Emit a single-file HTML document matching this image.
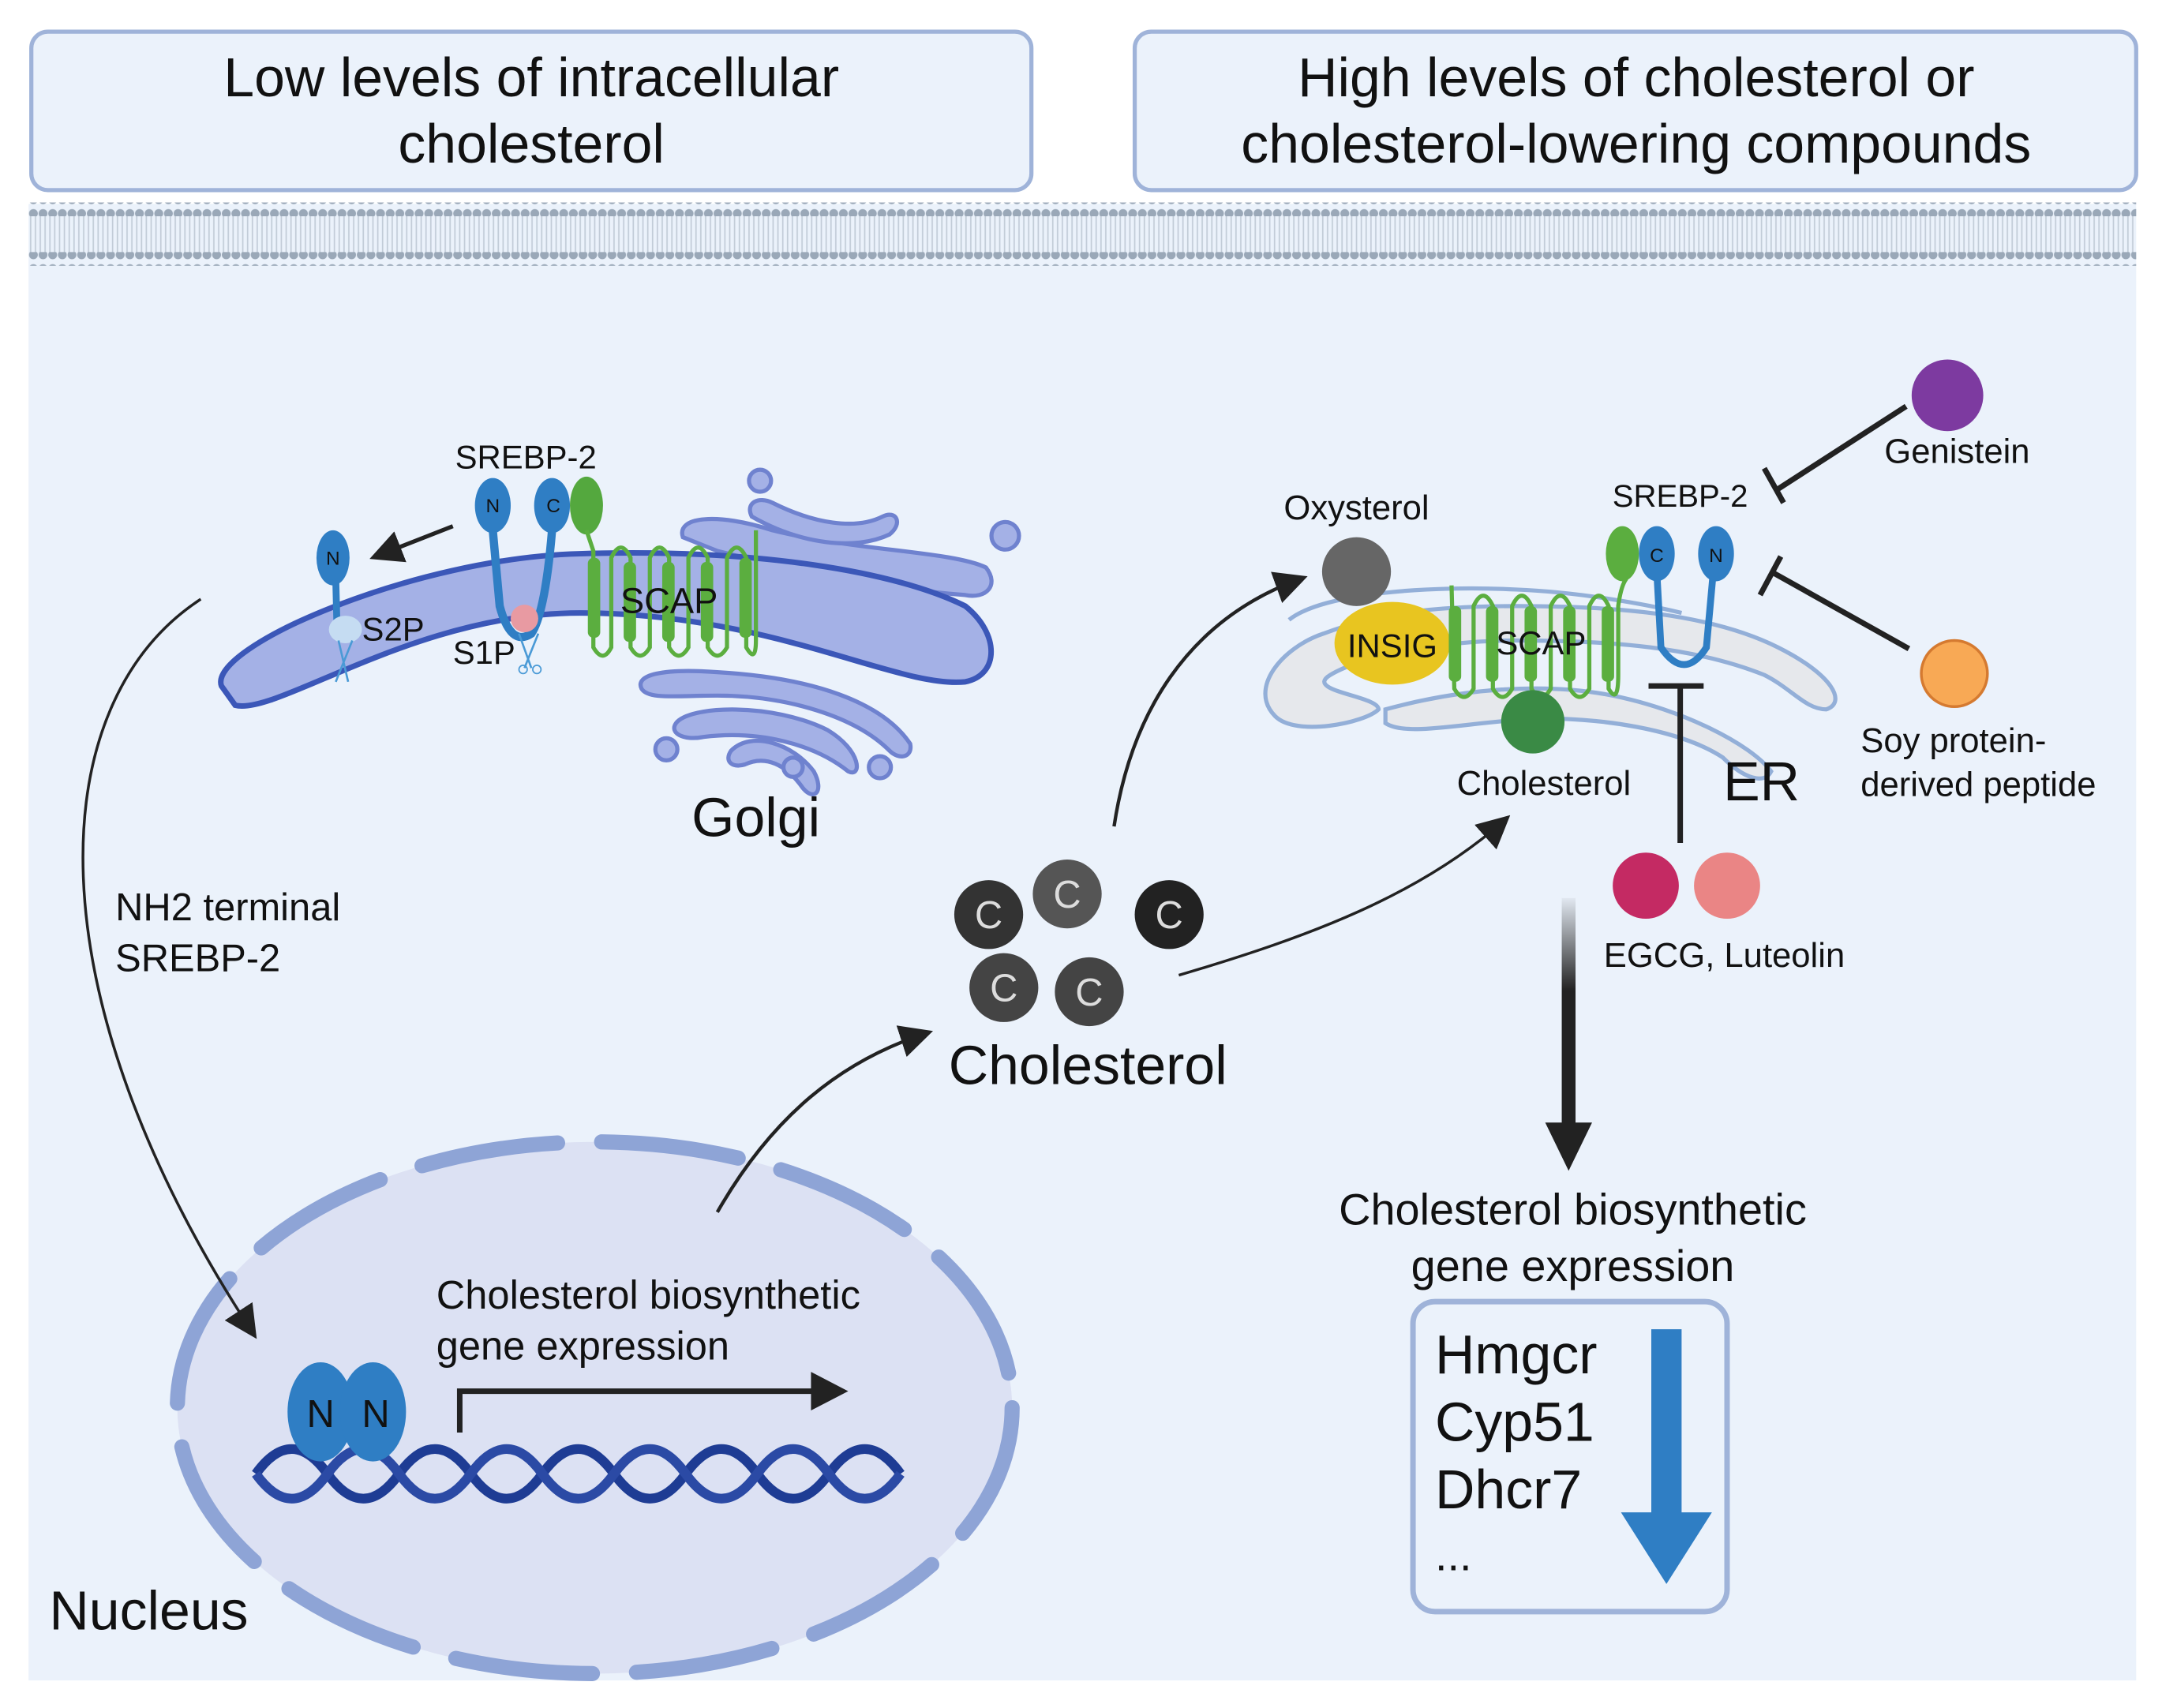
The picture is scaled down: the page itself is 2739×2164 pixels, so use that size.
<!DOCTYPE html>
<html><head><meta charset="utf-8"><style>
html,body{margin:0;padding:0;background:#fff;}
svg{display:block;}
text{font-family:"Liberation Sans",sans-serif;fill:#111;}
</style></head><body>
<svg width="2739" height="2164" viewBox="0 0 1568 1240" xmlns="http://www.w3.org/2000/svg">
<defs>
<marker id="ahb" viewBox="0 0 10 10" refX="8" refY="5" markerWidth="24" markerHeight="24" markerUnits="userSpaceOnUse" orient="auto"><path d="M0,0 L10,5 L0,10 z" fill="#222"/></marker>
<pattern id="dots" x="20" y="0" width="7" height="10" patternUnits="userSpaceOnUse"><circle cx="3.5" cy="5" r="3.2" fill="#9aa8b8"/></pattern>
<pattern id="tails" x="20" y="0" width="3.5" height="10" patternUnits="userSpaceOnUse"><rect x="1" y="0" width="1" height="10" fill="#c2ccd8"/></pattern>
<linearGradient id="gd" x1="0" y1="0" x2="0" y2="1"><stop offset="0" stop-color="#222" stop-opacity="0.05"/><stop offset="0.4" stop-color="#222"/></linearGradient>
</defs>
<rect width="1568" height="1240" fill="#fff"/>
<rect x="20" y="148" width="1530" height="1072" fill="#ebf2fb"/>
<rect x="22" y="23" width="726" height="115" rx="12" fill="#ebf2fb" stroke="#9fb3d9" stroke-width="3"/>
<rect x="823" y="23" width="727" height="115" rx="12" fill="#ebf2fb" stroke="#9fb3d9" stroke-width="3"/>
<text x="385" y="70" font-size="40" text-anchor="middle">Low levels of intracellular</text>
<text x="385" y="118" font-size="40" text-anchor="middle">cholesterol</text>
<text x="1187" y="70" font-size="40" text-anchor="middle">High levels of cholesterol or</text>
<text x="1187" y="118" font-size="40" text-anchor="middle">cholesterol-lowering compounds</text>
<rect x="20" y="156" width="1530" height="28" fill="url(#tails)"/>
<rect x="20" y="147" width="1530" height="10" fill="url(#dots)"/>
<rect x="20" y="183" width="1530" height="10" fill="url(#dots)"/>

<!-- Golgi -->
<g fill="#a4b1e6" stroke="#6f82cf" stroke-width="3">
<path d="M495,390 C490,375 520,372 560,385 C620,400 690,400 715,412 C725,425 715,435 700,432 C650,428 600,420 520,400 Z"/>
<path d="M545,375 C540,365 550,360 560,365 C590,380 620,385 640,375 C650,370 655,380 645,388 C620,400 580,395 545,375 Z"/>
</g>
<path d="M160,498 C150,470 300,405 420,402 C550,398 650,415 700,440 C725,460 725,490 700,495 C650,500 560,445 420,445 C300,445 200,520 170,512 Z" fill="#a4b1e6" stroke="#3b57b8" stroke-width="4"/>
<g fill="#a4b1e6" stroke="#6f82cf" stroke-width="3">
<path d="M465,500 C460,490 480,485 520,488 C590,492 640,510 660,540 C662,550 652,552 645,545 C620,520 570,505 520,505 C490,505 470,508 465,500 Z"/>
<path d="M490,525 C500,512 560,510 600,530 C625,545 625,565 615,560 C590,540 550,530 510,535 C495,538 485,532 490,525 Z"/>
<path d="M530,545 C545,530 575,540 590,560 C598,575 590,582 582,572 C570,555 555,548 540,555 C530,558 525,552 530,545 Z"/>
<circle cx="551" cy="349" r="8"/><circle cx="729" cy="389" r="10"/><circle cx="483" cy="544" r="8"/><circle cx="575" cy="557" r="7"/><circle cx="638" cy="557" r="8"/>
</g>
<path d="M357,385 L362,440 Q370,470 385,460 Q395,445 400,385" fill="none" stroke="#2f7ec4" stroke-width="6"/>
<ellipse cx="357" cy="367" rx="13" ry="20" fill="#2f7ec4"/>
<ellipse cx="400" cy="367" rx="13" ry="20" fill="#2f7ec4"/>
<ellipse cx="425" cy="367" rx="12" ry="21" fill="#54a83e"/>
<text x="357" y="372" font-size="14" text-anchor="middle">N</text>
<text x="401" y="372" font-size="14" text-anchor="middle">C</text>
<circle cx="380" cy="449" r="10" fill="#e89aa2"/>
<text x="381" y="340" font-size="24" text-anchor="middle">SREBP-2</text>
<text x="328" y="482" font-size="24">S1P</text>
<text x="262" y="465" font-size="24">S2P</text>
<path d="M376,460 L385,485 M390,460 L380,485" stroke="#4a9ad6" stroke-width="1.5"/>
<circle cx="379" cy="486" r="3" fill="none" stroke="#4a9ad6"/><circle cx="389" cy="486" r="3" fill="none" stroke="#4a9ad6"/>
<ellipse cx="241" cy="405" rx="12" ry="20" fill="#2f7ec4"/>
<text x="241" y="410" font-size="14" text-anchor="middle">N</text>
<line x1="243" y1="420" x2="244" y2="460" stroke="#2f7ec4" stroke-width="5"/>
<ellipse cx="250" cy="457" rx="12" ry="10" fill="#c5dcf2"/>
<path d="M245,465 L252,495 M255,465 L243,495" stroke="#4a9ad6" stroke-width="1.5"/>
<line x1="328" y1="382" x2="272" y2="404" stroke="#222" stroke-width="3" marker-end="url(#ahb)"/>
<g fill="none" stroke="#5bae3f" stroke-width="3">
<path d="M425,385 L430,400 L430,470 Q437,482 443,470 L443,405 Q450,390 457,405 L457,470 Q464,482 471,470 L471,405 Q478,390 485,405 L485,470 Q492,482 499,470 L499,405 Q506,390 513,405 L513,470 Q520,482 527,470 L527,405 Q534,390 541,405 L541,470 Q548,482 548,465 L548,385"/>
</g>
<g fill="#5bae3f"><rect x="426" y="405" width="9" height="58" rx="4"/><rect x="452" y="408" width="9" height="58" rx="4"/><rect x="480" y="408" width="9" height="58" rx="4"/><rect x="508" y="408" width="9" height="58" rx="4"/><rect x="536" y="405" width="9" height="58" rx="4"/></g>
<text x="485" y="445" font-size="26" text-anchor="middle">SCAP</text>
<text x="548" y="607" font-size="40" text-anchor="middle">Golgi</text>

<text x="83" y="668" font-size="28">NH2 terminal</text>
<text x="83" y="705" font-size="28">SREBP-2</text>

<!-- Nucleus -->
<ellipse cx="431" cy="1022" rx="303" ry="193" fill="#dce1f3" stroke="#8ea4d6" stroke-width="11" stroke-dasharray="100 32" stroke-linecap="round"/>
<path d="M145,435 C30,510 20,720 183,968" fill="none" stroke="#222" stroke-width="2" marker-end="url(#ahb)"/>
<path d="M185,1070 q26,-36 52,0 t52,0 t52,0 t52,0 t52,0 t52,0 t52,0 t52,0 t52,0" fill="none" stroke="#1e3c94" stroke-width="7"/>
<path d="M185,1070 q26,36 52,0 t52,0 t52,0 t52,0 t52,0 t52,0 t52,0 t52,0 t52,0" fill="none" stroke="#2b4aa5" stroke-width="7"/>
<ellipse cx="232" cy="1025" rx="24" ry="36" fill="#2f7ec4"/>
<ellipse cx="270" cy="1025" rx="24" ry="36" fill="#2f7ec4"/>
<text x="232" y="1036" font-size="28" text-anchor="middle">N</text>
<text x="272" y="1036" font-size="28" text-anchor="middle">N</text>
<path d="M333,1040 L333,1010 L595,1010" fill="none" stroke="#222" stroke-width="4"/>
<path d="M588,996 L615,1010 L588,1024 z" fill="#222"/>
<text x="316" y="950" font-size="29">Cholesterol biosynthetic</text>
<text x="316" y="987" font-size="29">gene expression</text>
<text x="35" y="1183" font-size="40">Nucleus</text>

<path d="M520,880 C560,810 610,770 672,750" fill="none" stroke="#222" stroke-width="2.5" marker-end="url(#ahb)"/>
<g font-size="28" text-anchor="middle">
<circle cx="717" cy="664" r="25" fill="#333"/><text x="717" y="674" style="fill:#ddd">C</text>
<circle cx="774" cy="649" r="25" fill="#555"/><text x="774" y="659" style="fill:#ddd">C</text>
<circle cx="848" cy="664" r="25" fill="#222"/><text x="848" y="674" style="fill:#ddd">C</text>
<circle cx="728" cy="717" r="25" fill="#444"/><text x="728" y="727" style="fill:#ddd">C</text>
<circle cx="790" cy="720" r="25" fill="#444"/><text x="790" y="730" style="fill:#ddd">C</text>
</g>
<text x="789" y="787" font-size="40" text-anchor="middle">Cholesterol</text>
<path d="M808,600 C820,520 860,450 944,420" fill="none" stroke="#222" stroke-width="2.5" marker-end="url(#ahb)"/>
<path d="M855,708 C950,680 1030,650 1092,595" fill="none" stroke="#222" stroke-width="2" marker-end="url(#ahb)"/>

<!-- ER -->
<g fill="#e6e8ec" stroke="#93afd8" stroke-width="3">
<path d="M925,520 C905,500 930,470 960,460 C1000,445 1040,440 1100,440 C1170,440 1240,445 1290,470 C1330,490 1340,510 1325,515 C1310,515 1300,500 1280,490 C1230,470 1170,465 1100,465 C1050,465 990,475 965,490 C945,502 1000,505 1000,515 C990,525 940,535 925,520 Z"/>
<path d="M935,450 C960,430 1040,425 1100,428 C1150,430 1200,440 1220,445" fill="none"/>
<path d="M1005,515 C1060,500 1120,495 1170,505 C1220,515 1270,540 1285,560 C1280,570 1265,565 1250,550 C1220,530 1160,520 1110,522 C1060,525 1020,535 1005,525 Z"/>
</g>
<ellipse cx="1010" cy="467" rx="42" ry="30" fill="#e8c520"/>
<text x="1010" y="477" font-size="24" text-anchor="middle">INSIG</text>
<g fill="none" stroke="#5bae3f" stroke-width="3">
<path d="M1053,425 L1055,500 Q1062,512 1069,500 L1069,440 Q1076,425 1083,440 L1083,500 Q1090,512 1097,500 L1097,440 Q1104,425 1111,440 L1111,500 Q1118,512 1125,500 L1125,440 Q1132,425 1139,440 L1139,500 Q1146,512 1153,500 L1153,440 Q1160,425 1167,440 L1167,500 Q1174,512 1174,490 L1174,440 Q1176,425 1180,420"/>
</g>
<g fill="#5bae3f"><rect x="1051" y="440" width="9" height="55" rx="4"/><rect x="1078" y="440" width="9" height="55" rx="4"/><rect x="1106" y="440" width="9" height="55" rx="4"/><rect x="1134" y="440" width="9" height="55" rx="4"/><rect x="1162" y="440" width="9" height="55" rx="4"/></g>
<text x="1118" y="475" font-size="24" text-anchor="middle">SCAP</text>
<circle cx="1112" cy="524" r="23" fill="#3a8a45"/>
<ellipse cx="1177" cy="402" rx="12" ry="20" fill="#5bae3f"/>
<path d="M1202,415 L1205,470 Q1222,495 1238,470 L1243,415" fill="none" stroke="#2f7ec4" stroke-width="5"/>
<ellipse cx="1202" cy="402" rx="13" ry="20" fill="#2f7ec4"/>
<ellipse cx="1245" cy="402" rx="13" ry="20" fill="#2f7ec4"/>
<text x="1202" y="408" font-size="14" text-anchor="middle">C</text>
<text x="1245" y="408" font-size="14" text-anchor="middle">N</text>
<text x="1219" y="368" font-size="23" text-anchor="middle">SREBP-2</text>
<circle cx="984" cy="415" r="25" fill="#666"/>
<text x="984" y="377" font-size="25" text-anchor="middle">Oxysterol</text>
<text x="1120" y="577" font-size="25" text-anchor="middle">Cholesterol</text>
<text x="1278" y="581" font-size="40" text-anchor="middle">ER</text>
<circle cx="1413" cy="287" r="26" fill="#7d3aa0"/>
<text x="1420" y="336" font-size="25" text-anchor="middle">Genistein</text>
<line x1="1383" y1="295" x2="1290" y2="355" stroke="#222" stroke-width="4"/>
<line x1="1280" y1="340" x2="1294" y2="365" stroke="#222" stroke-width="4"/>
<circle cx="1418" cy="489" r="24" fill="#f8a955" stroke="#d57a30" stroke-width="2"/>
<line x1="1385" y1="471" x2="1285" y2="415" stroke="#222" stroke-width="4"/>
<line x1="1277" y1="432" x2="1292" y2="404" stroke="#222" stroke-width="4"/>
<text x="1350" y="546" font-size="25">Soy protein-</text>
<text x="1350" y="578" font-size="25">derived peptide</text>
<line x1="1219" y1="498" x2="1219" y2="612" stroke="#222" stroke-width="4"/>
<line x1="1196" y1="498" x2="1236" y2="498" stroke="#222" stroke-width="4"/>
<circle cx="1194" cy="643" r="24" fill="#c42a63"/>
<circle cx="1253" cy="643" r="24" fill="#ea8585"/>
<text x="1251" y="702" font-size="25" text-anchor="middle">EGCG, Luteolin</text>
<rect x="1133" y="652" width="10" height="168" fill="url(#gd)"/>
<path d="M1121,815 L1155,815 L1138,850 z" fill="#222"/>
<text x="1141" y="889" font-size="32" text-anchor="middle">Cholesterol biosynthetic</text>
<text x="1141" y="930" font-size="32" text-anchor="middle">gene expression</text>
<rect x="1025" y="945" width="228" height="225" rx="16" fill="#ebf2fb" stroke="#9fb3d9" stroke-width="4"/>
<text x="1041" y="997" font-size="40">Hmgcr</text>
<text x="1041" y="1046" font-size="40">Cyp51</text>
<text x="1041" y="1095" font-size="40">Dhcr7</text>
<text x="1041" y="1140" font-size="32">...</text>
<path d="M1198,965 L1220,965 L1220,1098 L1242,1098 L1209,1150 L1176,1098 L1198,1098 z" fill="#2f7ec4"/>
</svg>
</body></html>
